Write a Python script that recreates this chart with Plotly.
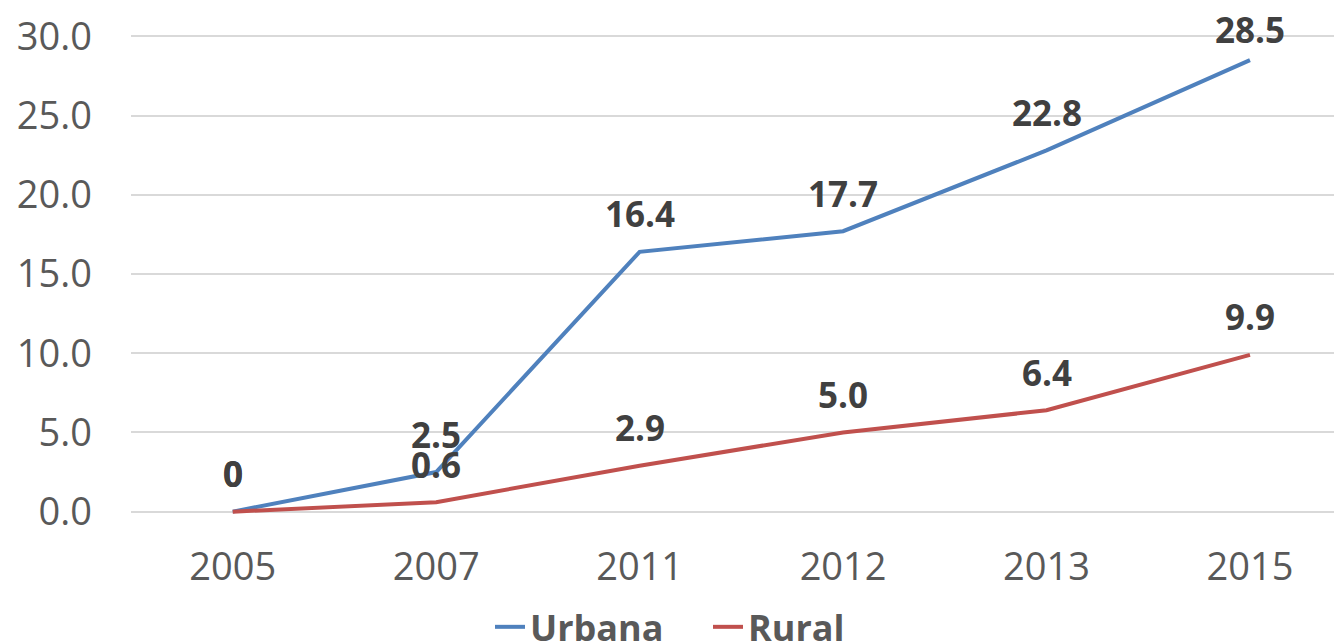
import plotly.graph_objects as go

years = ["2005", "2007", "2011", "2012", "2013", "2015"]
urbana = [0, 2.5, 16.4, 17.7, 22.8, 28.5]
rural = [0, 0.6, 2.9, 5.0, 6.4, 9.9]
urbana_labels = ["0", "2.5", "16.4", "17.7", "22.8", "28.5"]
rural_labels = ["0", "0.6", "2.9", "5.0", "6.4", "9.9"]

BLUE = "#4F81BD"
RED = "#C0504D"
FONT = "Open Sans"

fig = go.Figure()
fig.add_trace(go.Scatter(x=years, y=urbana, name="Urbana", mode="lines",
                         line=dict(color=BLUE, width=4), cliponaxis=False))
fig.add_trace(go.Scatter(x=years, y=rural, name="Rural", mode="lines",
                         line=dict(color=RED, width=4), cliponaxis=False))

# data labels above the points
y_lo, y_hi = -0.4, 30.4
plot_top, plot_h = 30, 488
for vals, labs in ((urbana, urbana_labels), (rural, rural_labels)):
    for i, (v, t) in enumerate(zip(vals, labs)):
        px = plot_top + (y_hi - v) / (y_hi - y_lo) * plot_h
        shift = min(38, px - 30)
        fig.add_annotation(x=i, y=v, text=f"<b>{t}</b>", showarrow=False,
                           xref="x", yref="y",
                           yshift=shift, yanchor="middle",
                           font=dict(family=FONT, size=35, color="#404040"))

fig.update_layout(
    width=1334, height=643,
    margin=dict(l=131, r=0, t=plot_top, b=643 - plot_top - plot_h),
    paper_bgcolor="white", plot_bgcolor="white",
    showlegend=True,
    legend=dict(orientation="h", xref="container", yref="container",
                x=490 / 1334, xanchor="left", y=0.025, yanchor="middle",
                font=dict(family=FONT, size=36, color="#595959", weight="bold"),
                itemwidth=30, entrywidth=173, tracegroupgap=0),
    xaxis=dict(type="category", range=[-0.5, 5.413], showgrid=False,
               showline=False, zeroline=False, ticks="", automargin=False,
               tickfont=dict(family=FONT, size=38, color="#595959"),
               ticklabelstandoff=23),
    yaxis=dict(range=[y_lo, y_hi], tickvals=[0, 5, 10, 15, 20, 25, 30],
               ticktext=["0.0", "5.0", "10.0", "15.0", "20.0", "25.0", "30.0"],
               showgrid=True, gridcolor="#D9D9D9", gridwidth=1.5,
               zeroline=False, showline=False, ticks="", automargin=False,
               tickfont=dict(family=FONT, size=38, color="#595959"),
               ticklabelstandoff=38),
)

fig.write_html("out.html", config={"displayModeBar": False},
               post_script="document.body.style.margin='0';document.body.style.overflow='hidden';")
